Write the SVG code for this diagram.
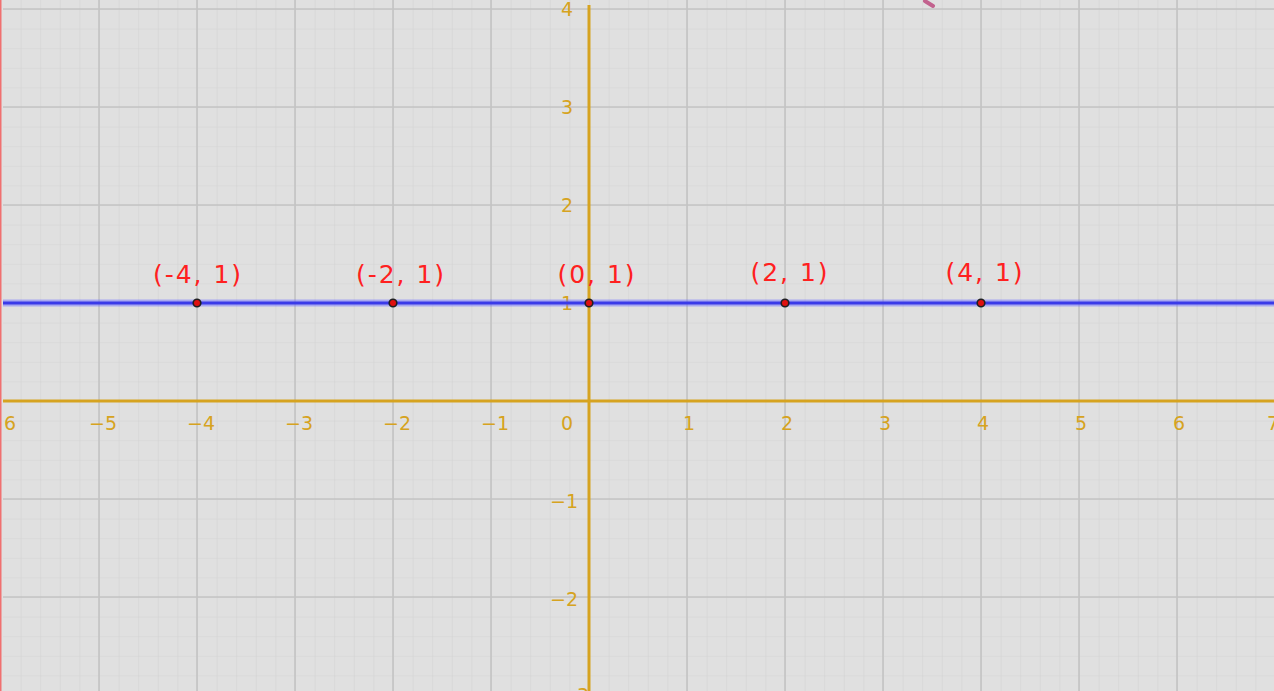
<svg xmlns="http://www.w3.org/2000/svg" width="1274" height="691" viewBox="0 0 1274 691">
<defs>
<pattern id="minor" x="1" y="9" width="19.6" height="19.6" patternUnits="userSpaceOnUse">
<path d="M0 0 H19.6 M0 0 V19.6" stroke="#d3d3d3" stroke-width="1.2" fill="none"/>
</pattern>
</defs>
<style>
.maj{stroke:#c4c4c4;stroke-width:1.6}
.ax{stroke:#d6a320;stroke-width:3}
.tl{font-family:"DejaVu Sans",sans-serif;font-size:19px;fill:#d6a320}
.pl{font-family:"DejaVu Sans",sans-serif;font-size:25px;letter-spacing:2px;fill:#ff2020;text-anchor:middle}
.pt{fill:#e01010;stroke:#202020;stroke-width:1.6}
</style>
<rect width="1274" height="691" fill="#e0e0e0"/>
<rect x="3" y="0" width="1271" height="691" fill="url(#minor)"/>
<g id="grid">
<path class="maj" d="M99 0V691M197 0V691M295 0V691M393 0V691M491 0V691M687 0V691M785 0V691M883 0V691M981 0V691M1079 0V691M1177 0V691M3 9H1274M3 107H1274M3 205H1274M3 303H1274M3 499H1274M3 597H1274"/>
</g>
<g id="axes">
<line class="ax" x1="3" y1="401" x2="1274" y2="401"/>
<line class="ax" x1="589" y1="5" x2="589" y2="691"/>
</g>
<g id="ticklabels" class="tl">
<text x="4" y="430">6</text>
<text x="89" y="430">−5</text>
<text x="187" y="430">−4</text>
<text x="285" y="430">−3</text>
<text x="383" y="430">−2</text>
<text x="481" y="430">−1</text>
<text x="561" y="430">0</text>
<text x="683" y="430">1</text>
<text x="781" y="430">2</text>
<text x="879" y="430">3</text>
<text x="977" y="430">4</text>
<text x="1075" y="430">5</text>
<text x="1173" y="430">6</text>
<text x="1267" y="430">7</text>
<text x="561" y="16">4</text>
<text x="561" y="114">3</text>
<text x="561" y="212">2</text>
<text x="561" y="310">1</text>
<text x="550" y="508">−1</text>
<text x="550" y="606">−2</text>
<text x="561" y="702">−3</text>
</g>
<g id="curve">
<path d="M925 1 L933 6" stroke="#c2628e" stroke-width="4" stroke-linecap="round" fill="none"/>
</g>
<g id="line">
<line x1="3" y1="303" x2="1274" y2="303" stroke="#7070ff" stroke-opacity="0.5" stroke-width="7"/>
<line x1="3" y1="303" x2="1274" y2="303" stroke="#3a3ae8" stroke-width="3"/>
</g>
<g id="p1"><circle class="pt" cx="197" cy="303" r="3.8"/><text class="pl" x="198" y="283">(-4, 1)</text></g>
<g id="p2"><circle class="pt" cx="393" cy="303" r="3.8"/><text class="pl" x="401" y="283">(-2, 1)</text></g>
<g id="p3"><circle class="pt" cx="589" cy="303" r="3.8"/><text class="pl" x="597" y="283">(0, 1)</text></g>
<g id="p4"><circle class="pt" cx="785" cy="303" r="3.8"/><text class="pl" x="790" y="281">(2, 1)</text></g>
<g id="p5"><circle class="pt" cx="981" cy="303" r="3.8"/><text class="pl" x="985" y="281">(4, 1)</text></g>
<rect x="0" y="0" width="1.5" height="691" fill="#f07070"/>
</svg>
